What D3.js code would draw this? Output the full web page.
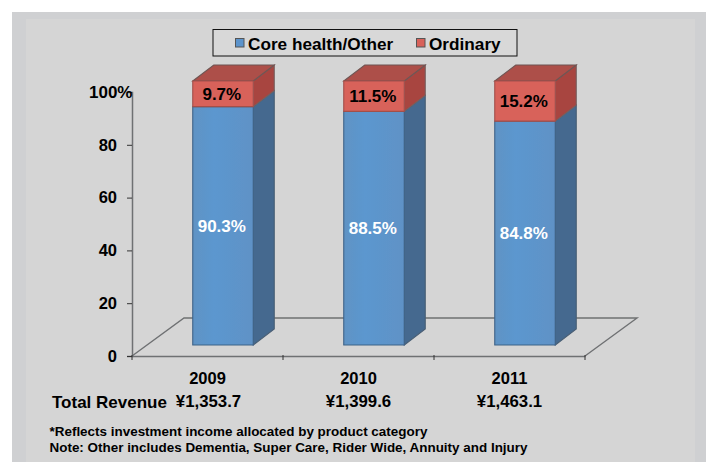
<!DOCTYPE html>
<html><head><meta charset="utf-8">
<script src="https://cdnjs.cloudflare.com/ajax/libs/d3/7.8.5/d3.min.js"></script>
<style>html,body{margin:0;padding:0;background:#fff}svg{display:block}text{font-family:"Liberation Sans",Arial,sans-serif;font-weight:700}</style>
</head><body><svg id="c" width="706" height="462"></svg>
<script>
const years = ["2009","2010","2011"];
const coreShare = [90.3,88.5,84.8];
const ordinaryShare = [9.7,11.5,15.2];
const revenue = ["¥1,353.7","¥1,399.6","¥1,463.1"];
const yTicks = [0,20,40,60,80,100];
const legendNames = ["Core health/Other","Ordinary"];
const notes = ["*Reflects investment income allocated by product category","Note: Other includes Dementia, Super Care, Rider Wide, Annuity and Injury"];

const svg = d3.select("#c");
svg.append("rect").attr("x",12).attr("y",12).attr("width",694).attr("height",450).attr("fill","#cfd0d2");
svg.append("rect").attr("x",26).attr("y",19).attr("width",669).attr("height",443).attr("fill","#d5d5d5");

const defs = svg.append("defs");
const grad = defs.append("linearGradient").attr("id","blueFace");
[[0,"#5f93c4"],[0.35,"#5b97cf"],[1,"#5f92c6"]].forEach(s=>grad.append("stop").attr("offset",s[0]).attr("stop-color",s[1]));
const soft = defs.append("filter").attr("id","soft").attr("x","-5%").attr("y","-5%").attr("width","110%").attr("height","110%");
soft.append("feGaussianBlur").attr("stdDeviation",0.45);

const x = d3.scaleBand().domain(years).range([132,585]);
const yAxisScale = d3.scaleLinear().domain([0,100]).range([356,92]);
const depthX = 21, depthY = -16;
const floorDX = 52, floorDY = -38;
const y = v => yAxisScale(v) - 11;
const barW = 60.5;
const barX = d => x(d) + x.bandwidth()/2 + 15.5 - barW/2;

const g = svg.append("g").attr("filter","url(#soft)");

const x0 = x.range()[0], x1 = x.range()[1], y0 = yAxisScale(0);
g.append("path").attr("fill","none").attr("stroke","#6f7173").attr("stroke-width",1.4)
  .attr("d",`M${x0},${y0}L${x0+floorDX},${y0+floorDY}L${x1+floorDX},${y0+floorDY}L${x1},${y0}`);

years.forEach((yr,i)=>{
  const l = barX(yr), r = l+barW;
  const yb = y(0), ym = y(coreShare[i]), yt = y(100);
  const poly = (pts,fill,stroke) => g.append("polygon").attr("points",pts.map(p=>p.join(",")).join(" ")).attr("fill",fill).attr("stroke",stroke).attr("stroke-width",1.1);
  poly([[r,yb],[r+depthX,yb+depthY],[r+depthX,ym+depthY],[r,ym]],"#44698f","#4a5f75");
  poly([[r,ym],[r+depthX,ym+depthY],[r+depthX,yt+depthY],[r,yt]],"#a8443f","#76605e");
  poly([[l,yt],[l+depthX,yt+depthY],[r+depthX,yt+depthY],[r,yt]],"#ad4f49","#6f5553");
  poly([[l,ym],[r,ym],[r,yb],[l,yb]],"url(#blueFace)","#3d6288");
  poly([[l,yt],[r,yt],[r,ym],[l,ym]],"#d8625a","#a24f4a");
});

const axisCol = "#6f7173";
const yAx = svg.append("g").attr("transform",`translate(${x0},0)`).call(d3.axisLeft(yAxisScale).tickValues(yTicks).tickSize(5).tickPadding(10).tickFormat(d=>d));
yAx.select(".domain").attr("stroke",axisCol).attr("stroke-width",1.5);
yAx.selectAll(".tick line").attr("stroke","#333");
yAx.selectAll("text").attr("fill","#000").attr("font-size",16.5).attr("font-family",'"Liberation Sans",Arial,sans-serif');
yAx.selectAll(".tick").filter(d=>d===100).select("text").text("100%").attr("text-anchor","start").attr("x",-43).attr("font-size",17);
const xAx = svg.append("g").attr("transform",`translate(0,${y0})`).call(d3.axisBottom(x).tickSize(0).tickPadding(16));
xAx.select(".domain").attr("stroke",axisCol).attr("stroke-width",1.5);
xAx.selectAll("text").attr("fill","#000").attr("font-size",16.5).attr("font-family",'"Liberation Sans",Arial,sans-serif');
svg.append("g").selectAll("line").data([...years.map(d=>x(d)),x1]).join("line")
  .attr("x1",d=>d).attr("x2",d=>d).attr("y1",y0-1).attr("y2",y0+4).attr("stroke","#333");

const labels = svg.append("g").attr("text-anchor","middle").attr("font-size",17);
years.forEach((yr,i)=>{
  const cx = barX(yr)+barW/2-1.2;
  labels.append("text").attr("x",cx).attr("y",(y(100)+y(coreShare[i]))/2+6).attr("fill","#000").text(ordinaryShare[i].toFixed(1)+"%");
  labels.append("text").attr("x",cx).attr("y",y(coreShare[i]/2)+6).attr("fill","#fff").text(coreShare[i].toFixed(1)+"%");
});

svg.append("text").attr("x",52).attr("y",408).attr("font-size",17).attr("fill","#000").text("Total Revenue");
svg.append("g").attr("text-anchor","middle").attr("font-size",16.8).selectAll("text").data(years).join("text")
  .attr("x",d=>x(d)+x.bandwidth()/2+(d==="2009"?1:0)).attr("y",407).attr("fill","#000").text((d,i)=>revenue[i]);

svg.append("g").attr("font-size",13.45).selectAll("text").data(notes).join("text")
  .attr("x",49.5).attr("y",(d,i)=>436+i*16).attr("fill","#000").text(d=>d);

svg.append("rect").attr("x",213).attr("y",29.5).attr("width",304).attr("height",26.5).attr("fill","#d8d8d8").attr("stroke","#111").attr("stroke-width",1);
const swatches = [{n:legendNames[0],sx:235.5,tx:248,c:"#5b93cb"},{n:legendNames[1],sx:416.5,tx:429,c:"#d8625a"}];
swatches.forEach(s=>{
  svg.append("rect").attr("x",s.sx).attr("y",38.5).attr("width",8.5).attr("height",8.5).attr("fill",s.c).attr("stroke","#555").attr("stroke-width",1);
  svg.append("text").attr("x",s.tx).attr("y",49.5).attr("font-size",17.2).attr("fill","#000").text(s.n);
});
</script></body></html>
